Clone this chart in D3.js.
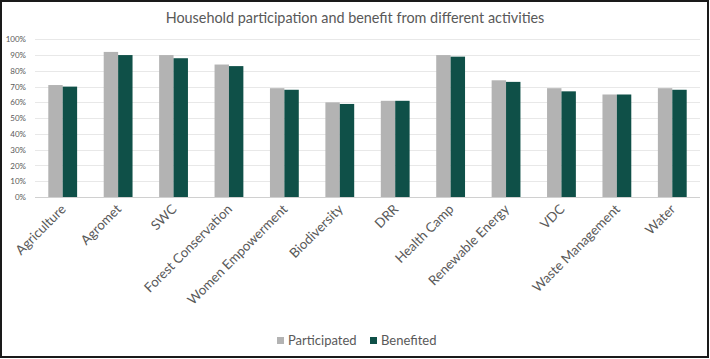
<!DOCTYPE html>
<html>
<head>
  <meta charset="utf-8">
  <title>Household participation and benefit</title>
  <style>
    body { margin: 0; background: #fff; }
    text { font-family: Lato, "Open Sans", sans-serif; fill: #595959; }
  </style>
</head>
<body>
  <svg width="710" height="359"></svg>
  <script src="https://d3js.org/d3.v7.min.js"></script>
  <script>
  // data
  var categories = ["Agriculture", "Agromet", "SWC", "Forest Conservation", "Women Empowerment",
    "Biodiversity", "DRR", "Health Camp", "Renewable Energy", "VDC", "Waste Management", "Water"];
  var participated = [71, 92, 90, 84, 69, 60, 61, 90, 74, 69, 65, 69];
  var benefited    = [70, 90, 88, 83, 68, 59, 61, 89, 73, 67, 65, 68];
  var seriesNames = ["Participated", "Benefited"];
  var yTicks = [0, 10, 20, 30, 40, 50, 60, 70, 80, 90, 100];

  var colors = ["#b3b3b3", "#0f5048"];
  var svg = d3.select("svg");

  // frame
  svg.append("rect")
    .attr("x", 1).attr("y", 1)
    .attr("width", 707).attr("height", 356)
    .attr("fill", "#fff")
    .attr("stroke", "#1a1a1a")
    .attr("stroke-width", 2);

  var plotLeft = 35, plotRight = 700, plotTop = 39.3, plotBottom = 197;

  var x = d3.scaleBand().domain(categories).range([plotLeft, plotRight]).paddingInner(0.48).paddingOuter(0.24);
  var x1 = d3.scaleBand().domain(seriesNames).range([0, x.bandwidth()]);
  var y = d3.scaleLinear().domain([0, 100]).range([plotBottom, plotTop]);

  // gridlines
  svg.append("g").selectAll("line")
    .data(yTicks)
    .enter()
    .append("line")
    .attr("x1", plotLeft).attr("x2", plotRight)
    .attr("y1", function(d) { return Math.round(y(d)) + 0.5; })
    .attr("y2", function(d) { return Math.round(y(d)) + 0.5; })
    .attr("stroke", function(d) { return d == 0 ? "#d0d0d0" : "#e8e8e8"; })
    .attr("stroke-width", 1);

  // y axis labels
  var yAxis = d3.axisLeft(y).tickValues(yTicks).tickSize(0).tickPadding(0)
    .tickFormat(function(d) { return d + "%"; });
  var yg = svg.append("g").attr("transform", "translate(26,0)").call(yAxis);
  yg.select(".domain").remove();
  yg.selectAll("text").style("font-size", "8px").style("fill", "#595959")
    .style("font-family", "Lato, sans-serif");

  // bars
  var data = categories.map(function(c, i) {
    return { cat: c, vals: [participated[i], benefited[i]] };
  });
  var groups = svg.append("g").selectAll("g")
    .data(data)
    .enter()
    .append("g")
    .attr("transform", function(d) { return "translate(" + x(d.cat) + ",0)"; });
  groups.selectAll("rect")
    .data(function(d) { return d.vals.map(function(v, j) { return { s: seriesNames[j], v: v, j: j }; }); })
    .enter()
    .append("rect")
    .attr("x", function(d) { return x1(d.s); })
    .attr("y", function(d) { return y(d.v); })
    .attr("width", x1.bandwidth())
    .attr("height", function(d) { return plotBottom - y(d.v); })
    .attr("fill", function(d) { return colors[d.j]; });

  // x labels rotated
  svg.append("g").selectAll("text")
    .data(categories)
    .enter()
    .append("text")
    .attr("transform", function(d) {
      return "translate(" + (x(d) + x.bandwidth() / 2 + 4) + ",210) rotate(-45)";
    })
    .attr("text-anchor", "end")
    .style("font-size", "13.3px")
    .text(function(d) { return d; });

  // title
  svg.append("text")
    .attr("x", 355).attr("y", 23)
    .attr("text-anchor", "middle")
    .style("font-size", "14.4px")
    .text("Household participation and benefit from different activities");

  // legend
  var legendX = [277, 370];
  var lg = svg.append("g").selectAll("g")
    .data(seriesNames)
    .enter()
    .append("g")
    .attr("transform", function(d, i) { return "translate(" + legendX[i] + ",337)"; });
  lg.append("rect").attr("width", 7).attr("height", 7).attr("fill", function(d, i) { return colors[i]; });
  lg.append("text").attr("x", 11).attr("y", 8).style("font-size", "13px").text(function(d) { return d; });
  </script>
</body>
</html>
